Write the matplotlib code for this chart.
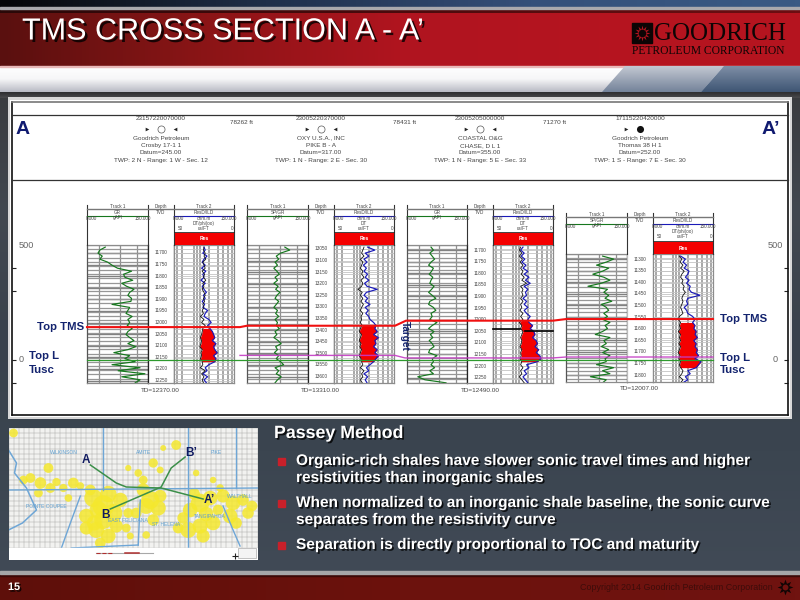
import numpy as np
import matplotlib
matplotlib.use("Agg")
import matplotlib.pyplot as plt
import matplotlib.patheffects as pe
from matplotlib.patches import Rectangle, Polygon
from matplotlib.colors import LinearSegmentedColormap as LSC

plt.rcParams['font.family'] = ['Liberation Sans', 'DejaVu Sans']

# ---------- chart data ----------
TITLE = "TMS CROSS SECTION A - A\u2019"
API = ["23157220070000", "23005220370000", "23005205000000", "17115220420000"]
OPERATOR = ["Goodrich Petroleum", "OXY U.S.A., INC", "COASTAL O&G", "Goodrich Petroleum"]
LEASE = ["Crosby 17-1 1", "PIKE B - A", "CHASE, D L 1", "Thomas 38 H 1"]
DATUM = ["Datum=245.00", "Datum=317.00", "Datum=355.00", "Datum=252.00"]
TWP = ["TWP: 2 N - Range: 1 W - Sec. 12", "TWP: 1 N - Range: 2 E - Sec. 30",
       "TWP: 1 N - Range: 5 E - Sec. 33", "TWP: 1 S - Range: 7 E - Sec. 30"]
SPACING = ["78262 ft", "78431 ft", "71270 ft"]
TD = ["TD=12370.00", "TD=13310.00", "TD=12490.00", "TD=12007.00"]
DEPTH_TICKS = [
    [11700, 11750, 11800, 11850, 11900, 11950, 12000, 12050, 12100, 12150, 12200, 12250],
    [13050, 13100, 13150, 13200, 13250, 13300, 13350, 13400, 13450, 13500, 13550, 13600],
    [11700, 11750, 11800, 11850, 11900, 11950, 12000, 12050, 12100, 12150, 12200, 12250],
    [11300, 11350, 11400, 11450, 11500, 11550, 11600, 11650, 11700, 11750, 11800],
]
SAMPLE_OFFSET_FT = [0, 13, 26, 39, 52, 65, 78, 91, 104, 117, 130, 143, 156, 169, 182, 195, 208,
                    221, 234, 247, 260, 273, 286, 299, 312, 325, 338, 351, 364, 377, 390, 403,
                    416, 429, 442, 455, 468, 481, 494, 507, 520, 533, 546, 559, 572, 585]
GR_1 = [30, 21, 18, 25, 21, 34, 41, 50, 73, 60, 62, 75, 57, 65, 77, 70, 67, 73, 72, 41, 70, 67, 64,
        74, 67, 70, 66, 74, 67, 64, 70, 77, 67, 80, 67, 44, 70, 62, 79, 41, 87, 51, 95, 57, 87, 79]
RES_1 = [50, 52, 48, 55, 50, 47, 52, 46, 53, 48, 50, 45, 52, 47, 50, 54, 49, 52, 47, 51, 48, 56, 52,
         50, 58, 62, 56, 60, 64, 66, 68, 64, 70, 66, 68, 72, 66, 70, 68, 58, 52, 55, 48, 56, 50, 54]
SON_1 = [50, 49, 52, 50, 53, 48, 50, 52, 47, 51, 49, 53, 48, 50, 47, 50, 52, 49, 51, 48, 50, 47, 49,
         44, 50, 46, 52, 48, 47, 46, 44, 46, 45, 43, 47, 45, 46, 44, 47, 48, 44, 52, 46, 50, 47, 49]
GR_2 = [62, 70, 55, 48, 52, 46, 50, 44, 49, 53, 46, 50, 44, 51, 47, 54, 49, 46, 52, 48, 44, 50, 47,
        52, 46, 50, 48, 53, 46, 49, 44, 51, 56, 47, 50, 45, 52, 48, 55, 60, 46, 52, 48, 56, 50, 46]
RES_2 = [56, 68, 52, 58, 50, 55, 49, 54, 50, 56, 52, 58, 51, 55, 72, 54, 50, 56, 52, 60, 52, 57, 53,
         58, 60, 66, 70, 68, 72, 66, 74, 68, 70, 66, 72, 68, 74, 70, 66, 60, 54, 58, 50, 56, 52, 55]
SON_2 = [50, 48, 46, 50, 44, 48, 46, 44, 48, 46, 50, 45, 48, 46, 40, 47, 44, 48, 45, 49, 46, 44, 48,
         45, 46, 44, 47, 44, 42, 46, 44, 42, 45, 43, 46, 44, 42, 45, 46, 48, 44, 50, 46, 48, 44, 47]
GR_3 = [40, 44, 38, 42, 46, 40, 36, 44, 41, 37, 43, 40, 38, 45, 41, 36, 42, 48, 38, 36, 44, 48, 40,
        42, 38, 50, 42, 36, 45, 39, 43, 37, 42, 45, 38, 36, 50, 42, 44, 40, 46, 38, 44, 18, 30, 65]
RES_3 = [50, 46, 52, 47, 53, 48, 55, 50, 58, 52, 60, 54, 62, 52, 58, 54, 56, 50, 56, 52, 58, 52, 56,
         62, 58, 60, 66, 62, 68, 70, 66, 72, 74, 70, 76, 72, 78, 80, 74, 56, 60, 52, 56, 50, 54, 58]
SON_3 = [46, 44, 48, 44, 49, 45, 50, 46, 50, 47, 52, 48, 56, 46, 50, 48, 50, 46, 50, 46, 48, 45, 50,
         46, 50, 44, 48, 46, 50, 48, 46, 48, 47, 45, 48, 46, 47, 45, 48, 46, 50, 46, 48, 44, 48, 52]
GR_4 = [60, 78, 66, 50, 70, 60, 44, 62, 72, 58, 36, 68, 62, 70, 64, 75, 58, 66, 70, 62, 68, 60, 72,
        64, 68, 60, 48, 72, 62, 66, 58, 70, 60, 72, 64, 66, 50, 78, 60, 72, 40, 66, 60]
RES_4 = [46, 54, 50, 56, 52, 60, 58, 54, 60, 56, 62, 60, 64, 78, 58, 56, 58, 52, 56, 58, 66, 70, 66,
         70, 68, 72, 70, 74, 68, 72, 70, 74, 72, 76, 70, 80, 76, 72, 58, 62, 54, 58, 50]
SON_4 = [44, 48, 45, 50, 46, 52, 48, 46, 50, 48, 52, 50, 54, 50, 48, 50, 48, 46, 48, 50, 44, 42, 46,
         44, 46, 42, 46, 44, 46, 43, 46, 44, 42, 45, 43, 46, 44, 46, 50, 48, 44, 50, 46]
GR_WELLS = [GR_1, GR_2, GR_3, GR_4]
RES_WELLS = [RES_1, RES_2, RES_3, RES_4]
SON_WELLS = [SON_1, SON_2, SON_3, SON_4]
TMS_INTERVAL_IDX = [(27, 38), (26, 38), (24, 38), (22, 37)]

GR_GRID = [20, 54, 82]
LOG_GRID = [5, 13, 33, 38, 43, 58, 73, 82, 90, 97]

ELEV_TICKS = [400, 300, 0, -100]
ELEV_LABELS = [500, 0]
TOP_TMS_X = [87, 240, 247, 395, 406, 553, 566, 713]
TOP_TMS_ELEV = [143, 143, 149, 149, 171, 171, 178, 178]
TOP_LT_X = [240, 395, 405, 553, 566, 713]
TOP_LT_ELEV = [20, 20, 9, 9, 13, 13]
DATUM_LINE_X = [87, 713]
DATUM_LINE_ELEV = [0, 0]

BULLETS = [["Organic-rich shales have slower sonic travel times and higher",
            "resistivities than inorganic shales"],
           ["When normalized to an inorganic shale baseline, the sonic curve",
            "separates from the resistivity curve"],
           ["Separation is directly proportional to TOC and maturity"]]

YELLOW_X = [95, 85, 105, 78, 112, 95, 88, 100, 92, 78, 108, 82, 90, 100, 86, 120, 118,
            142, 135, 150, 128, 145, 138, 152, 192, 182, 202, 175, 192, 180, 205, 170, 195, 186, 198, 210,
            225, 215, 235, 222, 240, 228, 244, 212, 32, 22, 42, 15, 65, 55, 72, 40, 48, 30, 145, 152, 168, 5, 130, 135, 120, 138, 188, 205, 155, 60, 122]
YELLOW_Y = [78, 70, 85, 88, 72, 92, 102, 108, 115, 100, 98, 62, 82, 66, 95, 85, 100,
            72, 62, 80, 85, 92, 78, 68, 75, 82, 70, 90, 98, 102, 95, 100, 108, 66, 86, 82,
            75, 68, 72, 88, 85, 95, 78, 60, 55, 50, 60, 52, 55, 60, 58, 40, 54, 65, 35, 42, 17, 5, 45, 52, 40, 107, 45, 52, 20, 70, 108]
YELLOW_S = [240, 170, 170, 110, 110, 170, 130, 110, 60, 90, 90, 60, 160, 140, 120, 50, 40,
            170, 90, 120, 60, 70, 130, 80, 180, 110, 110, 70, 120, 130, 110, 60, 90, 70, 110, 60,
            110, 90, 70, 110, 70, 70, 60, 30, 70, 50, 50, 40, 60, 35, 30, 50, 35, 40, 45, 25, 50, 40, 30, 40, 20, 30, 22, 22, 18, 30, 25]
RIVER_A_X = [0, 8, 6, 18, 28, 14, 0]
RIVER_A_Y = [22, 35, 45, 60, 82, 95, 102]
BLUE_LINES_X = [[0, 250], [95, 95], [180, 180], [228, 228], [72, 62, 53], [132, 130], [215, 225, 232], [63, 130]]
BLUE_LINES_Y = [[62, 60], [0, 62], [0, 120], [0, 60], [68, 95, 120], [72, 117], [78, 102, 118], [120, 117]]
SECTION_AA_X = [82, 108, 118, 153, 195]
SECTION_AA_Y = [37, 55, 59, 60, 71]
SECTION_BB_X = [102, 153, 163, 177]
SECTION_BB_Y = [81, 59, 40, 29]
COUNTIES = ["WILKINSON", "AMITE", "PIKE", "POINTE COUPEE", "EAST FELICIANA", "ST. HELENA", "TANGIPAHOA", "WALTHALL"]
COUNTY_X = [56, 135, 208, 38, 120, 158, 202, 232]
COUNTY_Y = [24, 24, 25, 78, 92, 96, 88, 68]
MAP_POINTS = ["A", "B\u2019", "A\u2019", "B"]
MAP_POINT_X = [78, 183, 201, 97]
MAP_POINT_Y = [32, 25, 72, 87]

# ---------- figure & background ----------
W, H = 800, 600
fig = plt.figure(figsize=(8, 6), dpi=100)
bg = fig.add_axes([0, 0, 1, 1])
bg.set_xlim(0, W); bg.set_ylim(H, 0); bg.axis('off')


def px_axes(x0, y0, x1, y1, **kw):
    return fig.add_axes([x0 / W, 1 - y1 / H, (x1 - x0) / W, (y1 - y0) / H], **kw)


def grad(x0, x1, y0, y1, colors, horiz=True, ax=bg, z=1):
    n = 256
    g = np.linspace(0, 1, n)
    g = g[None, :] if horiz else g[:, None]
    ax.imshow(g, extent=[x0, x1, y1, y0], cmap=LSC.from_list('g', colors), aspect='auto',
              vmin=0, vmax=1, zorder=z, interpolation='bilinear')


grad(0, W, 92, 572, ['#3a3c3f', '#424850', '#39424c', '#3b4550', '#414a56'], horiz=False)
grad(0, W, 0, 8, ['#050608', '#1f2f4a', '#34507a', '#3a5a84'])
bg.add_patch(Rectangle((0, 7), W, 2, color='#a9a9ad', zorder=2))
grad(0, W, 9, 66, ['#5a100f', '#8a1516', '#b0141f', '#b5141f', '#b5141f'])
grad(0, W, 9, 13, ['#2a0808', '#6e0e12'], z=1.5)
grad(0, W, 66, 92, ['#ffffff', '#f6f6f8', '#b8bac4'], horiz=False)
grad(0, W, 92, 98, ['#2d2e30', '#4a4a4c'], horiz=False)
grad(0, W, 572, 600, ['#5e0f0a', '#6c120d', '#701310'])
bg.add_patch(Rectangle((0, 574), W, 2, color='#3c0806', zorder=2))
bg.add_patch(Rectangle((0, 571), W, 3, color='#a6a6a8', zorder=2))
bg.add_patch(Rectangle((0, 66), W, 1, color='#e8b8b8', zorder=2))
im1 = bg.imshow(np.linspace(0, 1, 64)[:, None], extent=[600, 730, 92, 66], aspect='auto',
                cmap=LSC.from_list('p1', ['#c3c8d2', '#74839a']), zorder=2)
im1.set_clip_path(Polygon([[625, 66], [724, 66], [701, 92], [602, 92]], transform=bg.transData))
im2 = bg.imshow(np.linspace(0, 1, 64)[:, None], extent=[700, 800, 92, 66], aspect='auto',
                cmap=LSC.from_list('p2', ['#7e8ea6', '#3f5674']), zorder=2)
im2.set_clip_path(Polygon([[724, 66], [800, 66], [800, 92], [701, 92]], transform=bg.transData))
bg.set_xlim(0, W); bg.set_ylim(H, 0)

# panel
bg.add_patch(Rectangle((8, 97), 784, 322, facecolor='#d8d8d8', edgecolor='none', zorder=3))
bg.add_patch(Rectangle((10, 100), 780, 317, facecolor='white', edgecolor='none', zorder=3))


def shadow_text(a, x, y, s, off=1.2, **kw):
    t = a.text(x, y, s, **kw)
    t.set_path_effects([pe.SimplePatchShadow(offset=(off, -off), shadow_rgbFace='black', alpha=0.8), pe.Normal()])
    return t


shadow_text(bg, 22, 31.5, TITLE, off=1.8, color='white', fontsize=22, va='center', ha='left', zorder=5)
bg.text(654, 33.5, "GOODRICH", family=['Liberation Serif'], fontsize=18, color='#0c0505', va='center', ha='left', zorder=5)
bg.text(632, 51, "PETROLEUM CORPORATION", family=['Liberation Serif'], fontsize=8.3, color='#0c0505', va='center', ha='left', zorder=5)
bg.add_patch(Rectangle((632, 23), 19.5, 20, color='#0c0505', zorder=5))
bg.scatter([641.5], [33], marker=(12, 1, 0), s=130, color='#b5141f', zorder=6, linewidths=0)
bg.scatter([641.5], [33], marker='o', s=30, color='#0c0505', zorder=7, linewidths=0)

# ---------- cross-section: elevation axis over the full panel ----------
PANEL_TOP, PANEL_BOT, PANEL_L, PANEL_R = 102, 415, 12, 788
Y0, PX_PER_100 = 360, 23
sec = px_axes(PANEL_L, PANEL_TOP, PANEL_R, PANEL_BOT)
sec.patch.set_alpha(0)
sec.set_xlim(PANEL_L, PANEL_R)
sec.set_ylim((Y0 - PANEL_BOT) / PX_PER_100 * 100, (Y0 - PANEL_TOP) / PX_PER_100 * 100)
sec.set_xticks([])
sec.set_yticks(ELEV_TICKS)
sec.set_yticklabels([])
sec.tick_params(axis='y', direction='in', left=True, right=True, length=3, width=0.8, color='#222222')
for s in ('left', 'right', 'bottom'):
    sec.spines[s].set_color('#111111'); sec.spines[s].set_linewidth(1.2)
sec.spines['top'].set_color('#777777'); sec.spines['top'].set_linewidth(1.2)
for v in ELEV_LABELS:
    sec.text(26 if v else 21, v, str(v), fontsize=6.6, color='#666666', ha='center', va='center', zorder=8)
    sec.text(775, v, str(v), fontsize=6.6, color='#666666', ha='center', va='center', zorder=8)

ov = px_axes(0, 0, W, H)
ov.patch.set_alpha(0); ov.set_xlim(0, W); ov.set_ylim(H, 0); ov.axis('off')
ov.set_zorder(5)
for y in (114.5, 180):
    ov.plot([PANEL_L, PANEL_R], [y, y], color='#333333', lw=0.9, zorder=2)
ov.text(16, 130, "A", fontsize=14, fontweight='bold', color='#101a70', ha='left', va='center')
ov.text(762, 130, "A\u2019", fontsize=14, fontweight='bold', color='#101a70', ha='left', va='center')

CENTERS = [161, 321, 480, 640]
HEAD_Y = [119, 138, 145.5, 153, 160.5]
SPACING_X = [241, 405, 555]
hk = dict(fontsize=4.6, color='#444444', ha='center', va='center')
for i, cx in enumerate(CENTERS):
    for y, s in zip(HEAD_Y, [API[i], OPERATOR[i], LEASE[i], DATUM[i], TWP[i]]):
        ov.text(cx, y, s, **hk)
    ov.scatter([cx - 14], [129], marker='>', s=7, color='#222222', linewidths=0)
    if i == 3:
        ov.scatter([cx], [129], marker='o', s=26, color='#111111', linewidths=0)
    else:
        ov.scatter([cx], [129], marker='o', s=26, facecolor='white', edgecolor='#555555', linewidths=0.5)
        ov.scatter([cx + 14], [129], marker='<', s=7, color='#222222', linewidths=0)
for x, s in zip(SPACING_X, SPACING):
    ov.text(x, 123, s, **hk)

# ---------- wells ----------
TRACK_X = [(87, 148, 174, 234), (247, 308, 334, 394), (407, 467, 493, 553), (566, 627, 653, 713)]
HEAD_TOP = [205, 205, 205, 213]
RED_BOX = [(233, 245), (233, 245), (233, 245), (242, 254)]
BODY_BOT = [383, 383, 383, 382]
FIRST_TICK_Y = [253, 249, 250, 259]
FT_PER_PX = 50 / 11.6
GREEN, BLUE, RED = '#16781e', '#1a1ab8', '#f40000'

for i in range(4):
    xa, xb, xc, xd = TRACK_X[i]
    top, bot = RED_BOX[i][1], BODY_BOT[i]
    first = DEPTH_TICKS[i][0]
    dep_top = first - (FIRST_TICK_Y[i] - top) * FT_PER_PX
    dep_bot = first + (bot - FIRST_TICK_Y[i]) * FT_PER_PX
    start = dep_top + 9
    gr, res, son = map(np.array, (GR_WELLS[i], RES_WELLS[i], SON_WELLS[i]))
    d = start + np.array(SAMPLE_OFFSET_FT[:len(gr)])

    # GR track
    a = px_axes(xa, top, xb, bot)
    a.set_xlim(0, 100); a.set_ylim(dep_bot, dep_top)
    a.set_xticks(GR_GRID); a.set_yticks(np.array(DEPTH_TICKS[i]))
    a.set_yticks(np.arange(dep_top, dep_bot, 18), minor=True)
    a.tick_params(which='both', length=0, labelleft=False, labelbottom=False)
    a.grid(True, axis='x', color='#8f8f8f', lw=0.9)
    a.grid(True, axis='y', which='minor', color='#979797', lw=0.9)
    a.grid(True, axis='y', which='major', color='#808080', lw=1.0)
    a.plot(gr, d, color=GREEN, lw=0.85, clip_on=True)
    for s in a.spines.values():
        s.set_color('#8c8c8c'); s.set_linewidth(0.9)
    a.spines['right'].set_color('#222222'); a.spines['left'].set_color('#555555')
    a.set_axisbelow(True)

    # depth track
    b = px_axes(xb, top, xc, bot)
    b.set_xlim(0, 1); b.set_ylim(dep_bot, dep_top)
    b.set_xticks([]); b.set_yticks([])
    for s in b.spines.values():
        s.set_color('#222222' if i < 3 else '#bbbbbb'); s.set_linewidth(0.9)
    b.spines['top'].set_visible(False)
    b.spines['bottom'].set_color('#8c8c8c')
    for t in DEPTH_TICKS[i]:
        b.text(0.5, t, str(t), fontsize=3.4, color='#444444', ha='center', va='center')

    # resistivity / sonic track
    c = px_axes(xc, top, xd, bot)
    c.set_xlim(0, 100); c.set_ylim(dep_bot, dep_top)
    c.set_xticks(LOG_GRID)
    c.set_yticks(DEPTH_TICKS[i])
    c.set_yticks(np.arange(dep_top, dep_bot, 18), minor=True)
    c.tick_params(which='both', length=0, labelleft=False, labelbottom=False)
    c.grid(True, axis='x', color='#8f8f8f', lw=1.1)
    c.grid(True, axis='y', which='both', color='#c4c4c4', lw=0.6)
    c.set_axisbelow(True)
    i0, i1 = TMS_INTERVAL_IDX[i]
    c.fill_betweenx(d[i0:i1 + 1], son[i0:i1 + 1], res[i0:i1 + 1], color=RED, lw=0, zorder=2)
    c.plot(res, d, color=BLUE, lw=0.85, zorder=3)
    c.plot(son, d, color='#111111', lw=0.6, zorder=3)
    for s in c.spines.values():
        s.set_color('#8c8c8c'); s.set_linewidth(0.9)

    # header
    ht = HEAD_TOP[i]
    rb0, rb1 = RED_BOX[i]
    k = dict(fontsize=3.3, color='#444444', ha='center', va='center')
    for x in (xa, xb, xc, xd):
        ov.plot([x, x], [ht, rb1], color='#333333', lw=0.8)
    ov.plot([xa, xd], [ht + 4, ht + 4], color='#777777', lw=1.0)
    ov.plot([xa, xb], [ht + 10.5, ht + 10.5], color=GREEN, lw=0.8)
    ov.plot([xc, xd], [ht + 10.5, ht + 10.5], color=BLUE, lw=0.8)
    ov.add_patch(Rectangle((xc, rb0), xd - xc, rb1 - rb0, color=RED, lw=0))
    ov.text((xc + xd) / 2, (rb0 + rb1) / 2, "Res", fontsize=3.6, color='white', ha='center', va='center', fontweight='bold')
    ov.text((xa + xb) / 2, ht + 1.5, "Track 1", **k)
    ov.text((xb + xc) / 2, ht + 1.5, "Depth", **k)
    ov.text((xc + xd) / 2, ht + 1.5, "Track 2", **k)
    ov.text((xa + xb) / 2, ht + 7, "GR" if i % 2 == 0 else "SP/GR", **k)
    ov.text((xb + xc) / 2, ht + 7, "TVD", **k)
    ov.text((xc + xd) / 2, ht + 7, "ResD/ILD", **k)
    for fx, s in zip((0.08, 0.5, 0.92), ("0.000", "gAPI", "150.000")):
        ov.text(xa + fx * (xb - xa), ht + 13, s, **k)
        ov.text(xc + fx * (xd - xc), ht + 13, {"gAPI": "ohm.m"}.get(s, s), **k)
    ov.text((xc + xd) / 2, ht + 18.5, "DT/phi(oo)" if i in (0, 3) else "DT", **k)
    ov.text(xc + 6, ht + 24, "50", **k); ov.text((xc + xd) / 2, ht + 24, "us/FT", **k); ov.text(xd - 2, ht + 24, "0", **k)
    ov.plot([xc, xd], [rb0 - 1, rb0 - 1], color='#222222', lw=0.6)
    ov.text((xa + xd) / 2, bot + 7, TD[i], fontsize=4.6, color='#444444', ha='center', va='center')

# thick black marks on well 3
ov.plot([493, 520], [328.5, 328.5], color='black', lw=1.2, zorder=6)
ov.plot([525, 553], [331, 331], color='black', lw=1.2, zorder=6)

# correlation lines drawn in elevation coordinates
top_ax = px_axes(PANEL_L, PANEL_TOP, PANEL_R, PANEL_BOT)
top_ax.patch.set_alpha(0); top_ax.axis('off')
top_ax.set_xlim(sec.get_xlim()); top_ax.set_ylim(sec.get_ylim()); top_ax.set_zorder(6)
top_ax.plot(DATUM_LINE_X, DATUM_LINE_ELEV, color='#2e9a2e', lw=0.9)
top_ax.plot(TOP_LT_X, TOP_LT_ELEV, color='#c43cc4', lw=1.0, alpha=0.9)
top_ax.plot(TOP_TMS_X, TOP_TMS_ELEV, color='#f01010', lw=1.5)
lab = dict(color='#13236e', fontweight='bold', fontsize=8.2, ha='left', va='center')
top_ax.text(37, 145, "Top TMS", **lab)
top_ax.text(29, 17, "Top L", **lab)
top_ax.text(29, -43, "Tusc", **lab)
top_ax.text(720, 178, "Top TMS", **lab)
top_ax.text(720, 10, "Top L", **lab)
top_ax.text(720, -42, "Tusc", **lab)
top_ax.text(405, 104, "Target", rotation=270, **{**lab, 'ha': 'center', 'fontsize': 7.2})

# ---------- map ----------
m = px_axes(8.5, 428, 258, 560)
m.set_xlim(0, 250); m.set_ylim(132, 0)
m.set_facecolor('#f2f2f0')
m.set_xticks(np.arange(0, 250, 5.2)); m.set_yticks(np.arange(0, 120, 5.2))
m.tick_params(length=0, labelleft=False, labelbottom=False)
m.grid(True, color='#a8a8a8', lw=0.35)
m.set_axisbelow(True)
for s in m.spines.values():
    s.set_visible(False)
m.scatter(YELLOW_X, YELLOW_Y, s=YELLOW_S, color='#f5e82e', alpha=0.85, linewidths=0, zorder=2)
m.plot(RIVER_A_X, RIVER_A_Y, color='#6ea6d6', lw=1.1, zorder=3)
for xs, ys in zip(BLUE_LINES_X, BLUE_LINES_Y):
    m.plot(xs, ys, color='#6ea6d6', lw=1.0, zorder=3)
m.plot(SECTION_AA_X, SECTION_AA_Y, color='#3c8f4a', lw=1.1, zorder=4)
m.plot(SECTION_BB_X, SECTION_BB_Y, color='#3c8f4a', lw=1.1, zorder=4)
for x, y, s in zip(COUNTY_X, COUNTY_Y, COUNTIES):
    m.text(x, y, s, fontsize=3.6, color='#5f9fd0', ha='center', va='center', zorder=4)
for x, y, s in zip(MAP_POINT_X, MAP_POINT_Y, MAP_POINTS):
    m.text(x, y, s, fontsize=8.5, fontweight='bold', color='#101a60', ha='center', va='center', zorder=5)
m.add_patch(Rectangle((0, 120), 250, 12, color='white', zorder=4))
m.plot([88, 145], [125, 125], color='#a8a8a8', lw=0.8, zorder=5)
m.plot([88, 105], [125, 125], color='#b03030', lw=0.8, ls='--', zorder=6)
m.plot([117, 131], [125, 125], color='#b03030', lw=1.1, zorder=6)
m.add_patch(Rectangle((230, 120), 18, 10, facecolor='#f4f4f4', edgecolor='#999999', lw=0.4, zorder=5))
m.scatter([227], [128], marker='+', s=14, color='#222222', linewidths=0.8, zorder=6)

# ---------- text block ----------
tx = px_axes(0, 0, W, H)
tx.patch.set_alpha(0); tx.set_xlim(0, W); tx.set_ylim(H, 0); tx.axis('off')
tx.set_zorder(7)
shadow_text(tx, 274, 433.5, "Passey Method", fontsize=12.8, fontweight='bold', color='white', ha='left', va='center')
BLOCK_Y = [[461, 478], [503, 520], [545]]
for ys, lines in zip(BLOCK_Y, BULLETS):
    tx.add_patch(Rectangle((278, ys[0] - 3.5), 7, 7, color='#c9202a', zorder=3))
    for y, s in zip(ys, lines):
        shadow_text(tx, 296, y, s, fontsize=11.1, fontweight='bold', color='white', ha='left', va='center')
shadow_text(tx, 8, 587, "15", fontsize=7.8, fontweight='bold', color='white', ha='left', va='center')
tx.text(580, 587, "Copyright 2014 Goodrich Petroleum Corporation", fontsize=6.4, color='#3d0c0a', ha='left', va='center')
tx.scatter([785], [587], marker=(8, 1, 0), s=130, color='#100504', linewidths=0)
tx.scatter([785], [587], marker='o', s=18, color='#6f1210', linewidths=0)

fig.savefig('out.png', dpi=100)
